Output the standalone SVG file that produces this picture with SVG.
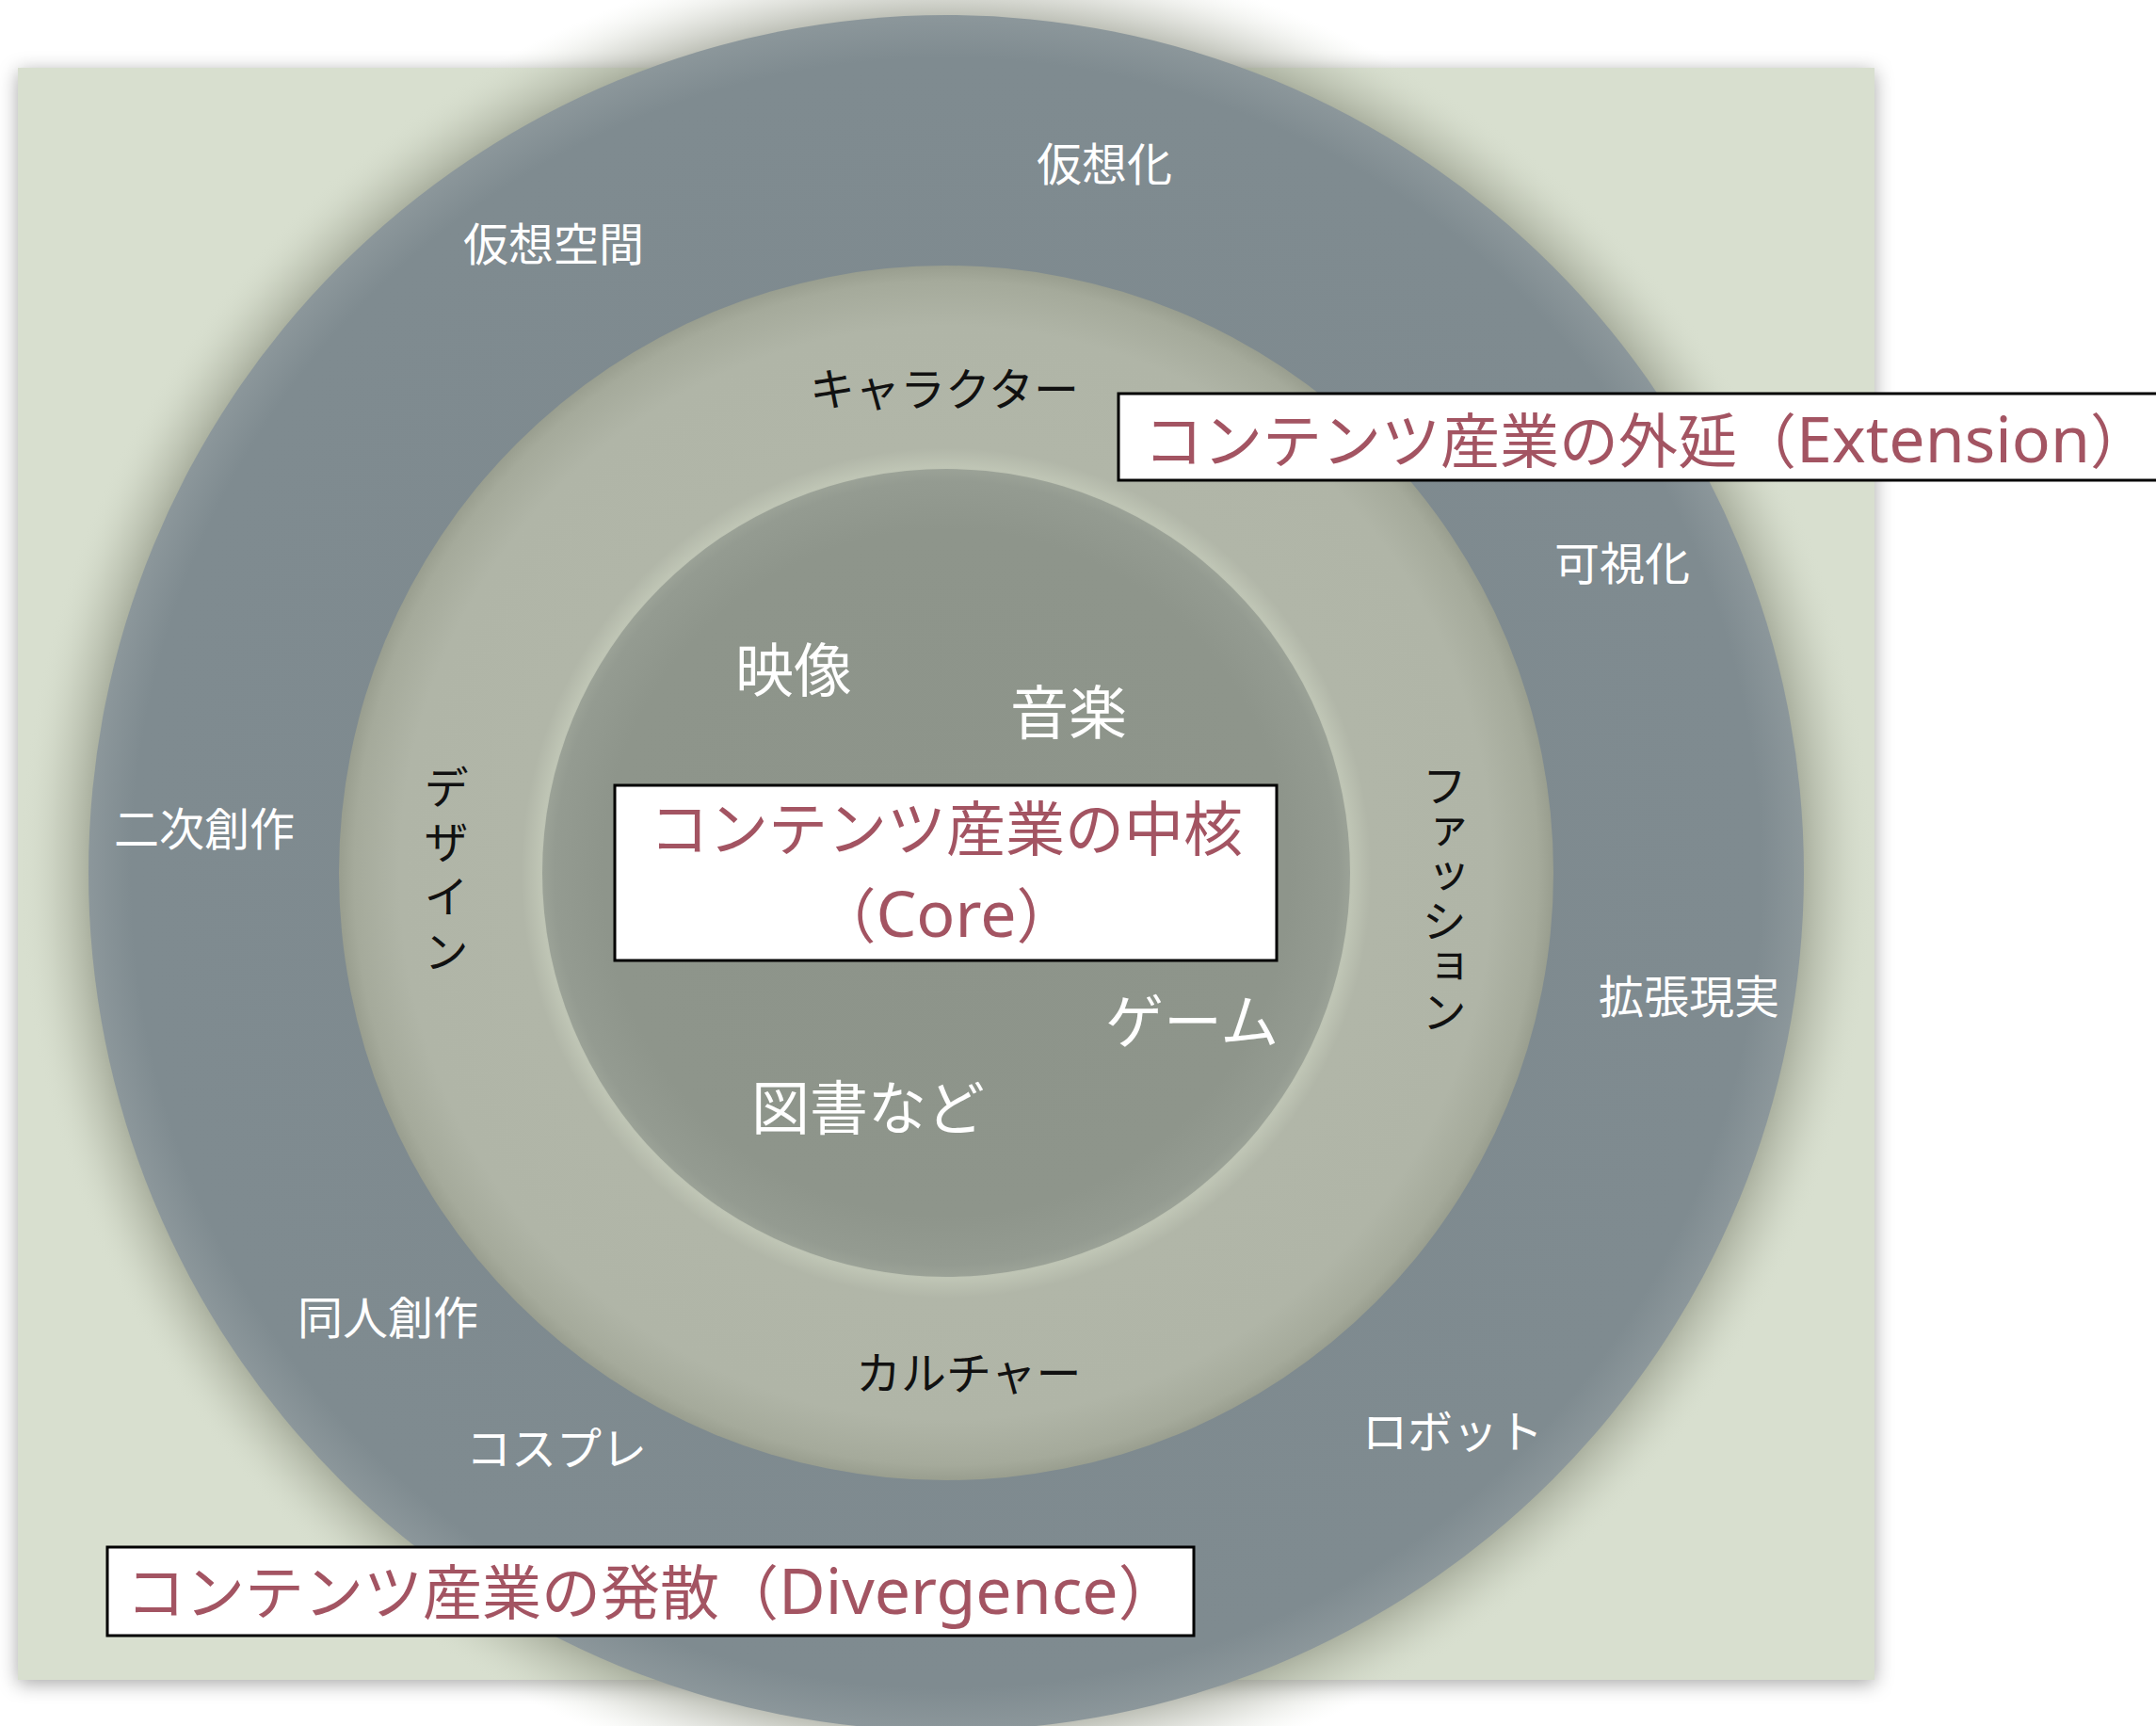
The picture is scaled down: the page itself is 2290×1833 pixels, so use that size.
<svg xmlns="http://www.w3.org/2000/svg" width="2290" height="1833" viewBox="0 0 2290 1833">
<defs>
  <filter id="rectShadow" x="-5%" y="-5%" width="110%" height="110%">
    <feDropShadow dx="0" dy="4" stdDeviation="10" flood-color="#000" flood-opacity="0.35"/>
  </filter>
  <radialGradient id="gShadow" gradientUnits="userSpaceOnUse" cx="1005" cy="927" r="985">
    <stop offset="0.92" stop-color="#7d8270" stop-opacity="0.55"/>
    <stop offset="0.96" stop-color="#9da290" stop-opacity="0.25"/>
    <stop offset="1" stop-color="#d8dfcf" stop-opacity="0"/>
  </radialGradient>
  <radialGradient id="gOuter" gradientUnits="userSpaceOnUse" cx="1005" cy="927" r="911">
    <stop offset="0" stop-color="#7e898e"/>
    <stop offset="0.95" stop-color="#7f8b90"/>
    <stop offset="1" stop-color="#8c979b"/>
  </radialGradient>
  <radialGradient id="gMiddle" gradientUnits="userSpaceOnUse" cx="1005" cy="927" r="645">
    <stop offset="0.64" stop-color="#b1b6a8"/>
    <stop offset="0.668" stop-color="#bfc5b5"/>
    <stop offset="0.70" stop-color="#b1b6a8"/>
    <stop offset="0.90" stop-color="#b0b5a7"/>
    <stop offset="0.975" stop-color="#a5aa9b"/>
    <stop offset="1" stop-color="#999e8f"/>
  </radialGradient>
  <radialGradient id="gInner" gradientUnits="userSpaceOnUse" cx="1005" cy="927" r="429">
    <stop offset="0" stop-color="#8d948a"/>
    <stop offset="0.85" stop-color="#8e958b"/>
    <stop offset="0.97" stop-color="#949b91"/>
    <stop offset="1" stop-color="#9ba297"/>
  </radialGradient>
  <style>
    text { font-family: "Noto Sans CJK JP", "Noto Sans", sans-serif; }
    .w { fill: #ffffff; font-size: 48px; }
    .b { fill: #111111; font-size: 48px; }
    .c { fill: #ffffff; font-size: 62px; }
    .r { fill: #a35462; font-size: 63px; font-family: "Noto Sans", "Noto Sans CJK JP", sans-serif; }
    .lat { font-size: 68px; }
    .box { fill: #ffffff; stroke: #000000; stroke-width: 3; }
    .v { writing-mode: vertical-rl; }
  </style>
</defs>

<rect x="0" y="0" width="2290" height="1833" fill="#ffffff"/>

<g id="background">
  <rect x="19" y="72" width="1972" height="1712" fill="#d8dfcf" filter="url(#rectShadow)"/>
</g>

<g id="circles">
  <circle cx="1005" cy="927" r="985" fill="url(#gShadow)"/>
  <circle id="outer" cx="1005" cy="927" r="911" fill="url(#gOuter)"/>
  <circle id="middle" cx="1005" cy="927" r="645" fill="url(#gMiddle)"/>
  <circle id="inner" cx="1005" cy="927" r="429" fill="url(#gInner)"/>
</g>

<g id="connectors"></g>

<g id="outer-labels">
  <text id="t-kasouka" class="w" x="1101" y="192">仮想化</text>
  <text id="t-kasoukukan" class="w" x="492" y="277">仮想空間</text>
  <text id="t-kashika" class="w" x="1651" y="616">可視化</text>
  <text id="t-niji" class="w" x="121" y="898">二次創作</text>
  <text id="t-kakucho" class="w" x="1698" y="1076">拡張現実</text>
  <text id="t-dojin" class="w" x="316" y="1417">同人創作</text>
  <text id="t-cosplay" class="w" x="495" y="1556">コスプレ</text>
  <text id="t-robot" class="w" x="1447" y="1538">ロボット</text>
</g>

<g id="middle-labels">
  <text id="t-chara" class="b" x="860" y="431">キャラクター</text>
  <text id="t-culture" class="b" x="909" y="1476">カルチャー</text>
  <text id="t-design" class="b v" x="474" y="812" letter-spacing="10">デザイン</text>
  <text id="t-fashion" class="b v" x="1534" y="810">ファッション</text>
</g>

<g id="core-labels">
  <text id="t-eizo" class="c" x="781" y="735">映像</text>
  <text id="t-ongaku" class="c" x="1073" y="780">音楽</text>
  <text id="t-game" class="c" x="1174" y="1108">ゲーム</text>
  <text id="t-tosho" class="c" x="798" y="1200">図書など</text>
</g>

<g id="node-core">
  <rect class="box" x="653" y="834" width="703" height="186"/>
  <text class="r" x="1005" y="903" text-anchor="middle">コンテンツ産業の中核</text>
  <text class="r" x="1005" y="995" text-anchor="middle">（<tspan class="lat">Core</tspan>）</text>
</g>

<g id="node-extension">
  <rect class="box" x="1188" y="418" width="1120" height="92"/>
  <text class="r" x="1215" y="491">コンテンツ産業の外延（<tspan class="lat">Extension</tspan>）</text>
</g>

<g id="node-divergence">
  <rect class="box" x="114" y="1643" width="1154" height="94"/>
  <text class="r" x="134" y="1714">コンテンツ産業の発散（<tspan class="lat">Divergence</tspan>）</text>
</g>
</svg>
